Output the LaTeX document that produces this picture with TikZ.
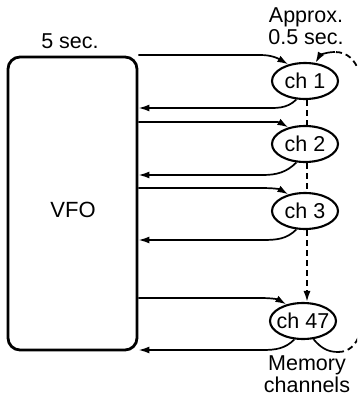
\documentclass[tikz,border=0pt]{standalone}
\usepackage{fontspec}
\setmainfont{Liberation Sans}
\usetikzlibrary{positioning, arrows.meta, shapes.geometric}

\begin{document}
\begin{tikzpicture}[x=1pt, y=-1pt,
        vfobox/.style={draw, line width=2.8pt, rounded corners=12pt,
            minimum width=129pt, minimum height=293pt, inner sep=0pt},
        chan/.style={draw, ellipse, line width=2.1pt, fill=white,
            minimum width=66pt, minimum height=36pt,
            inner xsep=-5pt, inner ysep=0pt, font=\fontsize{21.5}{23}\selectfont},
        feed/.style={line width=1.7pt, -{Latex[length=11pt,width=7pt]}},
        feedback/.style={line width=1.7pt, {Latex[length=11pt,width=7pt]}-},
        scan/.style={line width=1.8pt, dash pattern=on 6pt off 4pt},
        lbl/.style={font=\fontsize{21.5}{21.5}\selectfont, align=center, inner sep=0pt}
    ]
    \useasboundingbox (0,0) rectangle (357,397);
    \clip (0,0) rectangle (357,397);

    % VFO block
    \node[vfobox] (vfo) at (72.5,203.5) {};
    \node[lbl, font=\fontsize{22}{22}\selectfont] (vfolabel) at (73,210) {VFO};
    \node[lbl] (dwell) at (70,41) {5 sec.};

    % memory channels
    \node[chan] (ch1) at (305,81) {ch 1};
    \node[chan] (ch2) at (305,144) {ch 2};
    \node[chan] (ch3) at (305,211) {ch 3};
    \node[chan] (ch47) at (303,321) {ch 47};

    \node[lbl] (approx) at (306,26) {Approx.\\0.5 sec.};
    \node[lbl] (memlabel) at (307,374) {Memory\\channels};

    % VFO <-> channel hops
    \foreach \ch/\outy/\backy in {ch1/55/108, ch2/122/175, ch3/188/240, ch47/298/350} {
        \draw[feed] (vfo.east |- {(0,\outy)}) -- ++(122,0) to[out=0,in=150] (\ch.135);
        \draw[feedback] (vfo.east |- {(0,\backy)}) -- ++(124,0) to[out=0,in=225] (\ch.245);
    }

    % scan down the channels
    \draw[scan] ([xshift=2pt]ch1.south) -- ([xshift=2pt]ch2.north);
    \draw[scan] ([xshift=2pt]ch2.south) -- ([xshift=2pt]ch3.north);
    \draw[scan, -{Latex[length=11pt,width=7pt]}] ([xshift=2pt]ch3.south) -- ([xshift=4pt]ch47.north);

    % wrap back to ch 1
    \coordinate (loopb) at (338,352);
    \coordinate (loopt) at (335,52);
    \draw[line width=1.7pt] (ch47.300) to[out=-50,in=180] (loopb);
    \draw[scan] (loopb) to[out=0,in=-90] (364,300) -- (364,110) to[out=90,in=0] (loopt);
    \draw[feed] (loopt) to[out=180,in=60] (ch1.60);
\end{tikzpicture}
\end{document}
